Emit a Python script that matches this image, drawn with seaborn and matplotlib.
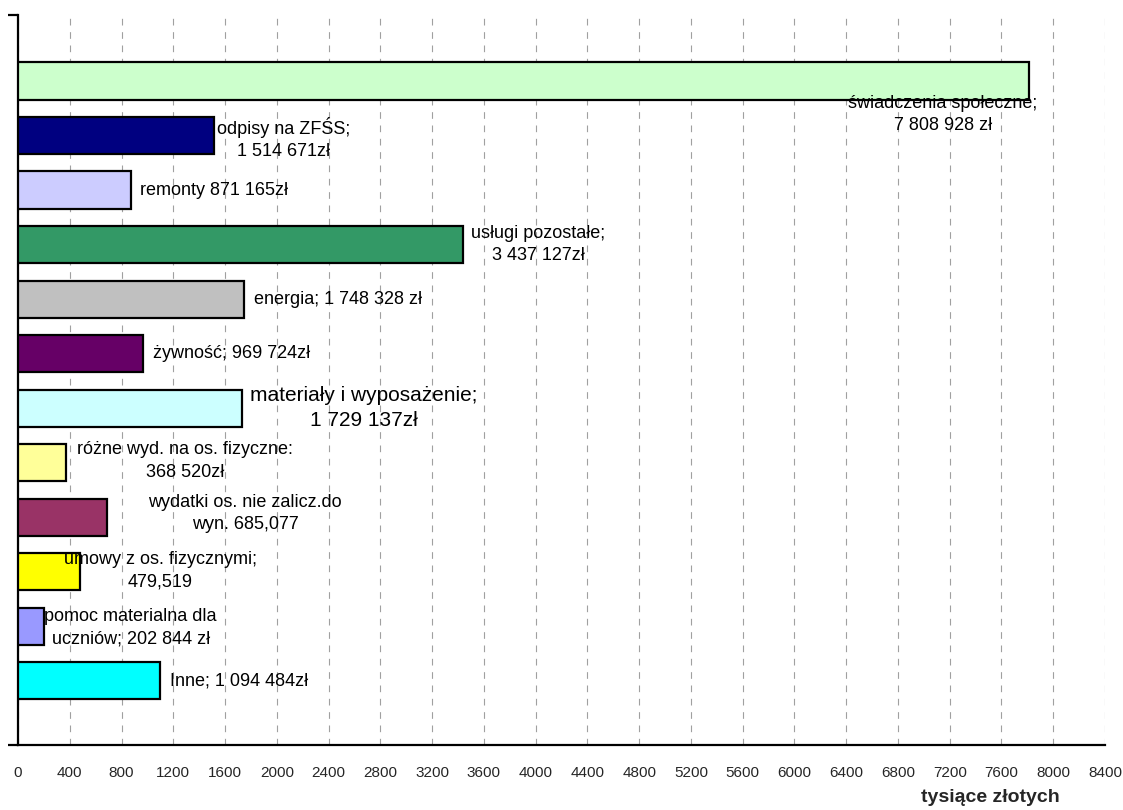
import matplotlib
matplotlib.use("Agg")
import matplotlib.pyplot as plt
import seaborn as sns
import pandas as pd

# Expenditure categories (values in thousands of złoty)
categories = [
    "świadczenia społeczne", "odpisy na ZFŚS", "remonty", "usługi pozostałe",
    "energia", "żywność", "materiały i wyposażenie", "różne wyd. na os. fizyczne",
    "wydatki os. nie zalicz.do wyn.", "umowy z os. fizycznymi",
    "pomoc materialna dla uczniów", "Inne",
]
values = [7808.928, 1514.671, 871.165, 3437.127, 1748.328, 969.724,
          1729.137, 368.520, 685.077, 479.519, 202.844, 1094.484]
bar_colors = ["#CCFFCC", "#000080", "#CCCCFF", "#339966", "#C0C0C0", "#660066",
              "#CCFFFF", "#FFFF99", "#993366", "#FFFF00", "#9999FF", "#00FFFF"]
label_texts = [
    "świadczenia społeczne;\n7 808 928 zł",
    "odpisy na ZFŚS;\n1 514 671zł",
    "remonty 871 165zł",
    "usługi pozostałe;\n3 437 127zł",
    "energia; 1 748 328 zł",
    "żywność; 969 724zł",
    "materiały i wyposażenie;\n1 729 137zł",
    "różne wyd. na os. fizyczne:\n368 520zł",
    "wydatki os. nie zalicz.do\nwyn. 685,077",
    "umowy z os. fizycznymi;\n479,519",
    "pomoc materialna dla\nuczniów; 202 844 zł",
    "Inne; 1 094 484zł",
]
x_ticks = list(range(0, 8401, 400))
x_title = "tysiące złotych"

# Hand-placed label anchors: (x in data units, vertical shift in category units, alignment, size)
label_place = [
    (7145, 0.62, "center", 13),
    (2050, 0.06, "center", 13),
    (945, 0.0, "left", 13),
    (4020, 0.0, "center", 13),
    (1825, 0.0, "left", 13),
    (1045, 0.0, "left", 13),
    (2670, 0.0, "center", 15),
    (1290, -0.03, "center", 13),
    (1755, -0.07, "center", 13),
    (1100, -0.02, "center", 13),
    (870, 0.03, "center", 13),
    (1175, 0.0, "left", 13),
]

sns.set_theme(style="white")
plt.rcParams["font.family"] = ["Liberation Sans", "DejaVu Sans"]

df = pd.DataFrame({"kategoria": categories, "wartosc": values})

fig = plt.figure(figsize=(11.23, 8.10), dpi=100)
ax = fig.add_axes([18 / 1123, 1 - 745 / 810, (1105 - 18) / 1123, (745 - 15) / 810])

sns.barplot(data=df, y="kategoria", x="wartosc", hue="kategoria",
            palette=bar_colors, saturation=1, legend=False, orient="h", width=0.68,
            edgecolor="black", linewidth=1.6, ax=ax, zorder=3)

ax.set_xlim(0, 8400)
n = len(categories)
ax.set_ylim(n - 1 + 1.18, -1.21)
ax.set_xticks(x_ticks)
ax.set_xticklabels([str(t) for t in x_ticks], fontsize=11)
ax.set_yticks([n - 1 + 1.18, -1.21])
ax.set_yticklabels(["", ""])
ax.set_xlabel("")
ax.set_ylabel("")

ax.xaxis.grid(True, color="#a0a0a0", linestyle=(0, (6, 6)), linewidth=0.8, zorder=0)
ax.yaxis.grid(False)
ax.set_axisbelow(True)

for side in ["top", "right"]:
    ax.spines[side].set_visible(False)
for side in ["left", "bottom"]:
    ax.spines[side].set_color("black")
    ax.spines[side].set_linewidth(1.6)

ax.tick_params(axis="x", direction="out", length=5, width=1.6, color="black", pad=10)
ax.tick_params(axis="y", direction="out", length=7, width=1.6, color="black", left=True)

for i, (txt, (lx, dy, ha, fs)) in enumerate(zip(label_texts, label_place)):
    ax.text(lx, i + dy, txt, ha=ha, va="center", multialignment="center",
            fontsize=fs, color="black", linespacing=1.42, zorder=5)

fig.text(1060 / 1123, 1 - 797 / 810, x_title, ha="right", va="center",
         fontsize=14, fontweight="bold")

fig.savefig("out.png", dpi=100)
